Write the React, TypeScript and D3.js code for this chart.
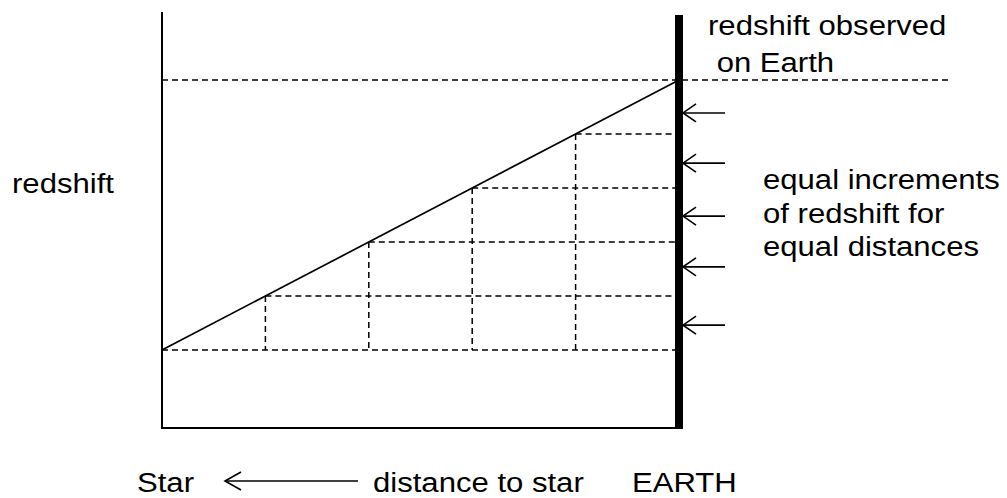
import React from "react";
import * as d3 from "d3";

// distance steps (star side = 0, Earth = 5) and the redshift at each step
const distanceSteps = [0, 1, 2, 3, 4, 5];
const redshiftSteps = [0, 1, 2, 3, 4, 5];
// redshift levels where the incoming arrows sit
const arrowLevels = [0.46, 1.54, 2.48, 3.46, 4.39];
const rightLabelLines = ["equal increments", "of redshift for", "equal distances"];
const topLabelLines = ["redshift observed", " on Earth"];

const W = 1007;
const H = 498;
const FS = 28;
const SX = 1.11;

const Label: React.FC<{ x: number; y: number; children: string }> = ({ x, y, children }) => (
  <text
    transform={`translate(${x},${y}) scale(${SX},1)`}
    fontSize={FS}
    style={{ whiteSpace: "pre" }}
  >
    {children}
  </text>
);

const App: React.FC = () => {
  const x = d3.scaleLinear().domain([0, 5]).range([162, 679]);
  const y = d3.scaleLinear().domain([0, 5]).range([350, 80]);

  const axisTop = y(6.26);
  const axisBottom = y(-1.445);
  const xEarth = x(5);

  const line = d3
    .line<number>()
    .x((d) => x(d))
    .y((_, i) => y(redshiftSteps[i]));

  const font = "'Liberation Sans', Arial, sans-serif";
  const dash = "6,4";

  const arrowHead = (tx: number, ty: number) =>
    `M${tx + 13},${ty - 9} L${tx},${ty} L${tx + 13},${ty + 9}`;

  return (
    <svg
      width={W}
      height={H}
      style={{ position: "absolute", left: 0, top: 0, background: "#fff" }}
      fontFamily={font}
    >
      {/* left axis and bottom axis */}
      <line x1={x(0)} x2={x(0)} y1={axisTop} y2={axisBottom} stroke="#000" strokeWidth={2} />
      <line x1={x(0) - 1} x2={xEarth + 4} y1={axisBottom} y2={axisBottom} stroke="#000" strokeWidth={2} />

      {/* top dashed reference line */}
      <line x1={x(0)} x2={952} y1={y(5)} y2={y(5)} stroke="#000" strokeWidth={1.3} strokeDasharray={dash} />

      {/* horizontal dashed steps */}
      {redshiftSteps.slice(0, 5).map((r, i) => (
        <line
          key={"h" + i}
          x1={x(distanceSteps[i])}
          x2={xEarth}
          y1={y(r)}
          y2={y(r)}
          stroke="#000"
          strokeWidth={1.5}
          strokeDasharray={dash}
        />
      ))}

      {/* vertical dashed steps */}
      {distanceSteps.slice(1, 5).map((d, i) => (
        <line
          key={"v" + i}
          x1={x(d)}
          x2={x(d)}
          y1={y(redshiftSteps[i + 1])}
          y2={y(0)}
          stroke="#000"
          strokeWidth={1.5}
          strokeDasharray={dash}
        />
      ))}

      {/* redshift line */}
      <path d={line(distanceSteps) ?? ""} fill="none" stroke="#000" strokeWidth={1.7} />

      {/* Earth bar */}
      <line x1={xEarth} x2={xEarth} y1={15} y2={axisBottom + 1} stroke="#000" strokeWidth={8} />

      {/* incoming arrows */}
      {arrowLevels.map((a, i) => (
        <g key={"a" + i} stroke="#000" strokeWidth={1.6} fill="none">
          <line x1={xEarth + 4} x2={725} y1={y(a)} y2={y(a)} />
          <path d={arrowHead(xEarth + 4, y(a))} />
        </g>
      ))}

      {/* labels */}
      <Label x={12} y={193}>redshift</Label>
      {topLabelLines.map((t, i) => (
        <Label key={"t" + i} x={708} y={35 + i * 37}>{t}</Label>
      ))}
      {rightLabelLines.map((t, i) => (
        <Label key={"r" + i} x={763} y={189 + i * 33.5}>{t}</Label>
      ))}

      {/* bottom caption */}
      <Label x={137} y={492}>Star</Label>
      <g stroke="#000" strokeWidth={1.6} fill="none">
        <line x1={225} x2={358} y1={481} y2={481} />
        <path d={`M${241},${472} L${225},${481} L${241},${490}`} />
      </g>
      <Label x={373} y={492}>distance to star</Label>
      <Label x={632} y={492}>EARTH</Label>
    </svg>
  );
};

export default App;
